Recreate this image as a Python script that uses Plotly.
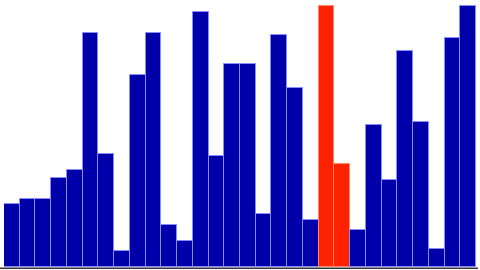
import plotly.graph_objects as go

values = [63, 68, 68, 89, 97, 234, 113, 16, 192, 234,
          42, 26, 255, 111, 203, 203, 53, 232, 179, 47,
          261, 103, 37, 142, 87, 216, 145, 18, 229, 261]
highlight = [20, 21]
blue = "#0000aa"
red = "#ff2200"

x = list(range(len(values)))
colors = [red if i in highlight else blue for i in x]
line_colors = ["#ff8866" if i in highlight else "#8a8aff" for i in x]

fig = go.Figure(go.Bar(
    x=x, y=values,
    marker=dict(color=colors, line=dict(color=line_colors, width=1)),
))
fig.update_layout(
    width=480, height=270,
    margin=dict(l=4, r=4, t=5, b=3),
    paper_bgcolor="white", plot_bgcolor="white",
    bargap=0, showlegend=False,
    xaxis=dict(visible=False, range=[-0.5, len(values) - 0.5]),
    yaxis=dict(visible=False, range=[0, 261.5]),
    shapes=[dict(type="line", xref="paper", yref="paper",
                 x0=-4 / 472, x1=1 + 2 / 472, y0=-1.2 / 262, y1=-1.2 / 262,
                 line=dict(color="#333333", width=1.5))],
)
fig.write_html("out.html")
